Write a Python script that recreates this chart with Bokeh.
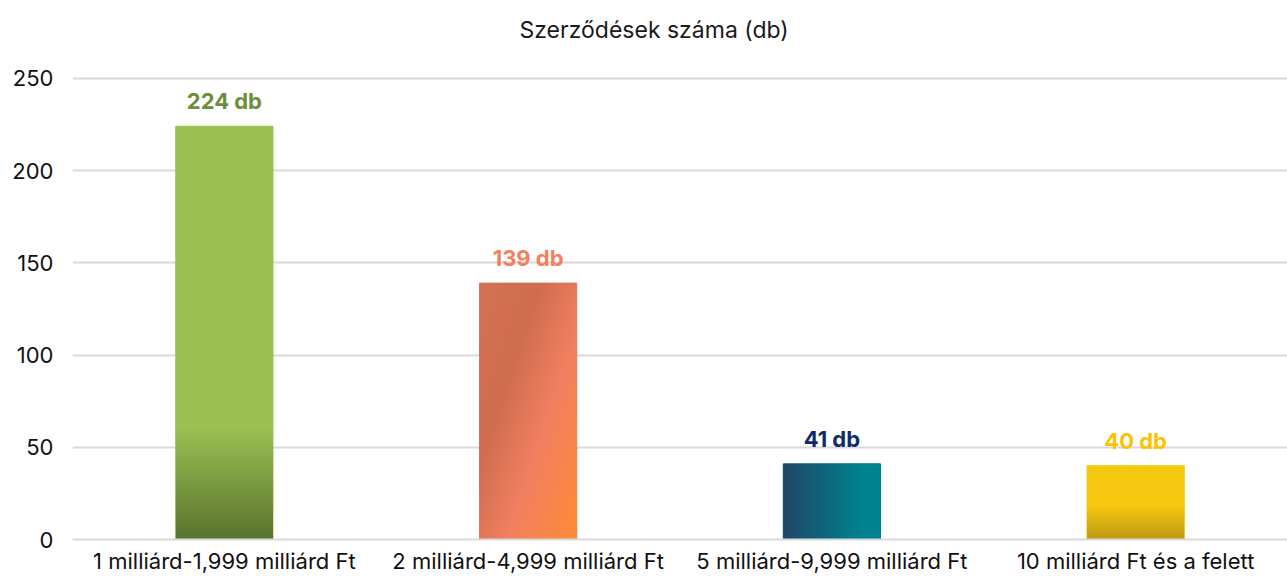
import numpy as np
from bokeh.plotting import figure
from bokeh.models import Range1d, FixedTicker, ColumnDataSource
from bokeh.embed import file_html
from bokeh.resources import INLINE
from bokeh.core.properties import value

# ---- data ----
title_text = "Szerződések száma (db)"
categories = ["1 milliárd-1,999 milliárd Ft", "2 milliárd-4,999 milliárd Ft",
              "5 milliárd-9,999 milliárd Ft", "10 milliárd Ft és a felett"]
counts = [224, 139, 41, 40]
labels = ["224 db", "139 db", "41 db", "40 db"]
label_colors = ["#6B8E3A", "#F47F5E", "#0F2B6B", "#FFC000"]
base_colors = ["#9BC153", "#E0765A", "#0E6A80", "#F5C90F"]
y_ticks = [0, 50, 100, 150, 200, 250]

FONT = "Inter"
W, H = 1287, 576
bar_w = 0.32
TOP, BOTTOM, LEFT = 56, 35, 72
Y_END = 261.3

p = figure(width=W, height=H, output_backend="svg", toolbar_location=None,
           x_range=Range1d(0, len(categories)), y_range=Range1d(0, Y_END),
           min_border_left=LEFT, min_border_right=0, min_border_top=TOP, min_border_bottom=BOTTOM)
p.outline_line_color = None
p.background_fill_color = "white"
p.border_fill_color = "white"

p.title.text = title_text
p.title.align = "left"
p.title.offset = 447
p.title.text_font = FONT
p.title.text_font_size = "23px"
p.title.text_font_style = "normal"
p.title.text_color = "#1a1a1a"
p.title.standoff = 27

xs = [i + 0.5 for i in range(len(categories))]

# base bars
src = ColumnDataSource(dict(x=xs, top=counts, color=base_colors, label=labels, lc=label_colors))
p.vbar(x="x", top="top", width=bar_w, color="color", source=src)


def hex2rgb(h):
    h = h.lstrip("#")
    return np.array([int(h[i:i + 2], 16) for i in (0, 2, 4)], dtype=float)


def ramp(t, stops):
    pos = np.array([s[0] for s in stops])
    cols = np.array([hex2rgb(s[1]) for s in stops])
    out = np.zeros(t.shape + (3,))
    for c in range(3):
        out[..., c] = np.interp(t, pos, cols[:, c])
    return out


def to_rgba(rgb):
    ny, nx, _ = rgb.shape
    img = np.empty((ny, nx), dtype=np.uint32)
    v = img.view(dtype=np.uint8).reshape((ny, nx, 4))
    v[..., 0:3] = np.clip(rgb, 0, 255).astype(np.uint8)
    v[..., 3] = 255
    return img


N = 120
gx, gy = np.meshgrid(np.linspace(0, 1, N), np.linspace(0, 1, N))  # gy: 0 bottom, 1 top

images = []
# green: vertical, solid above 60
yv = gy * counts[0]
images.append(ramp(yv, [(0, "#5A752F"), (60, "#9BC153"), (1000, "#9BC153")]))
# orange: diagonal
wpx, hpx = 97, counts[1] * 1.856
s = (gx * wpx * 142 + (1 - gy) * hpx * 48) / (wpx * 142 + hpx * 48)
images.append(ramp(s, [(0, "#D47352"), (0.32, "#CF6D4F"), (0.62, "#F27F62"), (1.0, "#FF8C36")]))
# teal: horizontal
images.append(ramp(gx, [(0, "#1F4766"), (0.8, "#00838F"), (1.0, "#00838F")]))
# yellow: vertical, solid above 18
yv = gy * counts[3]
images.append(ramp(yv, [(0, "#BE9A14"), (18, "#F5C90F"), (1000, "#F5C90F")]))

for i, rgb in enumerate(images):
    p.image_rgba(image=[to_rgba(rgb)], x=xs[i] - bar_w / 2, y=0, dw=bar_w, dh=counts[i])

p.text(x="x", y="top", text="label", text_color="lc", source=src,
       text_align="center", text_baseline="alphabetic", y_offset=-25,
       text_font=value(FONT), text_font_size="22px", text_font_style="bold")

# axes
p.xaxis.ticker = FixedTicker(ticks=xs)
p.xaxis.major_label_overrides = {x: c for x, c in zip(xs, categories)}
p.xaxis.major_label_text_font = FONT
p.xaxis.major_label_text_font_size = "22px"
p.xaxis.major_label_text_color = "#111111"
p.xaxis.major_tick_line_color = None
p.xaxis.major_tick_out = 0
p.xaxis.major_tick_in = 0
p.xaxis.minor_tick_line_color = None
p.xaxis.axis_line_color = "#D9D9D9"
p.xaxis.axis_line_width = 2
p.xaxis.major_label_standoff = 8

p.yaxis.ticker = FixedTicker(ticks=y_ticks)
p.yaxis.major_label_text_font = FONT
p.yaxis.major_label_text_font_size = "22px"
p.yaxis.major_label_text_color = "#111111"
p.yaxis.major_tick_line_color = None
p.yaxis.major_tick_out = 0
p.yaxis.major_tick_in = 0
p.yaxis.minor_tick_line_color = None
p.yaxis.axis_line_color = None
p.yaxis.major_label_standoff = 19

p.xgrid.grid_line_color = None
p.ygrid.ticker = FixedTicker(ticks=y_ticks)
p.ygrid.grid_line_color = "#D9D9D9"
p.ygrid.grid_line_width = 2

open("out.html", "w").write(file_html(p, INLINE))
